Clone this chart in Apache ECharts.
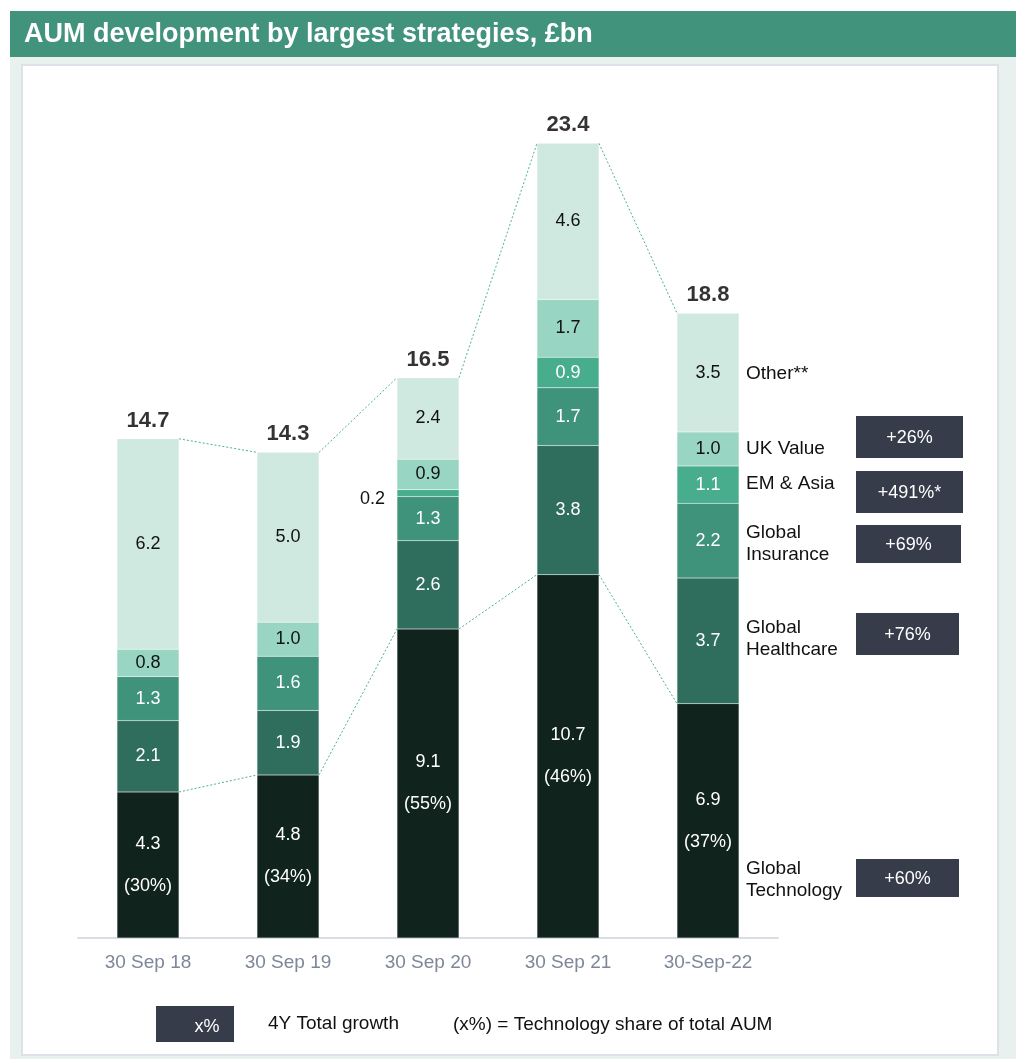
<!DOCTYPE html>
<html>
<head>
<meta charset="utf-8">
<script src="https://cdn.jsdelivr.net/npm/echarts@6/dist/echarts.min.js"></script>
<style>
  html, body { margin: 0; padding: 0; background: #fff; }
  #chart { width: 1016px; height: 1059px; }
</style>
</head>
<body>
<div id="chart"></div>
<script>
// data
var categories = ['30 Sep 18', '30 Sep 19', '30 Sep 20', '30 Sep 21', '30-Sep-22'];
var seriesNames = ['Global Technology', 'Global Healthcare', 'Global Insurance', 'EM & Asia', 'UK Value', 'Other**'];
var technology = [4.3, 4.8, 9.1, 10.7, 6.9];
var healthcare = [2.1, 1.9, 2.6, 3.8, 3.7];
var insurance = [1.3, 1.6, 1.3, 1.7, 2.2];
var emAsia = [0, 0, 0.2, 0.9, 1.1];
var ukValue = [0.8, 1.0, 0.9, 1.7, 1.0];
var other = [6.2, 5.0, 2.4, 4.6, 3.5];
var totalLabels = ['14.7', '14.3', '16.5', '23.4', '18.8'];
var techShare = ['30%', '34%', '55%', '46%', '37%'];
var growth = ['+60%', '+76%', '+69%', '+491%*', '+26%'];

var colors = ['#10231d', '#2f6e5c', '#40937b', '#48ad8c', '#98d5c2', '#cfe9e1'];
var labelColors = ['#fff', '#fff', '#fff', '#fff', '#111', '#111'];
var values = [technology, healthcare, insurance, emAsia, ukValue, other];
var font = "'Liberation Sans', Arial, sans-serif";

// stacked tops
var techTop = technology.slice();
var stackTop = categories.map(function (c, i) {
  var s = 0;
  values.forEach(function (v) { s += v[i]; });
  return +s.toFixed(2);
});

var BAR_W = 62;

var series = values.map(function (vals, k) {
  return {
    name: seriesNames[k],
    type: 'bar',
    stack: 'aum',
    barWidth: BAR_W,
    itemStyle: { color: colors[k], borderColor: 'rgba(255,255,255,0.25)', borderWidth: 0.5 },
    data: vals.map(function (v, i) {
      var item = { value: v };
      if (v === 0) {
        item.label = { show: false };
      } else if (k === 3 && v < 0.5) {
        item.label = { show: true, position: 'left', distance: 12, color: '#111', offset: [0, 6] };
      }
      return item;
    }),
    label: {
      show: true,
      position: 'inside',
      color: labelColors[k],
      fontFamily: font,
      fontSize: 18,
      lineHeight: k === 0 ? 42 : 20,
      formatter: function (p) {
        var v = p.value.toFixed(1);
        return k === 0 ? v + '\n(' + techShare[p.dataIndex] + ')' : v;
      }
    }
  };
});

// dotted connectors between bar tops
function connectorData(tops) {
  var d = [];
  for (var i = 0; i < tops.length - 1; i++) d.push([i, tops[i], tops[i + 1]]);
  return d;
}
function connectorRender(params, api) {
  var a = api.coord([api.value(0), api.value(1)]);
  var b = api.coord([api.value(0) + 1, api.value(2)]);
  return {
    type: 'line',
    shape: { x1: a[0] + BAR_W / 2, y1: a[1], x2: b[0] - BAR_W / 2, y2: b[1] },
    style: { stroke: '#4fb08f', lineWidth: 1, lineDash: [2, 2] }
  };
}
series.push({
  type: 'custom', renderItem: connectorRender, data: connectorData(stackTop), z: 5, silent: true
});
series.push({
  type: 'custom', renderItem: connectorRender, data: connectorData(techTop), z: 5, silent: true
});
// totals above bars
series.push({
  type: 'scatter',
  symbolSize: 0,
  data: stackTop.map(function (v, i) { return [i, v]; }),
  label: {
    show: true, position: 'top', distance: 7,
    color: '#000', fontFamily: font, fontSize: 22, fontWeight: 'bold',
    formatter: function (p) { return totalLabels[p.dataIndex]; }
  },
  silent: true
});

// right-hand annotations (series names and 4Y growth boxes)
var nameY = [880, 639, 544, 484, 449, 374];
var boxY = [859, 613, 525, 471, 416];
var boxH = [38, 42, 38, 42, 42];
var boxW = [103, 103, 105, 107, 107];
var graphics = [
  { type: 'rect', shape: { x: 10, y: 11, width: 1006, height: 1048 }, style: { fill: '#e8f1ee' }, z: -10 },
  { type: 'rect', shape: { x: 22, y: 65, width: 976, height: 990 }, style: { fill: '#fff', stroke: '#dde2e8', lineWidth: 2 }, z: -9 },
  { type: 'rect', shape: { x: 10, y: 11, width: 1006, height: 46 }, style: { fill: '#41937b' }, z: -8 },
  { type: 'text', x: 24, y: 35, style: { text: 'AUM development by largest strategies, £bn', fill: '#fff', font: 'bold 27px ' + font, textVerticalAlign: 'middle' } }
];
seriesNames.forEach(function (n, k) {
  var txt = n.indexOf('Global ') === 0 ? n.replace(' ', '\n') : n;
  graphics.push({
    type: 'text', x: 746, y: nameY[k],
    style: { text: txt, fill: '#111', font: '19px ' + font, lineHeight: 22, textVerticalAlign: 'middle' }
  });
});
growth.forEach(function (g, k) {
  graphics.push({ type: 'rect', shape: { x: 856, y: boxY[k], width: boxW[k], height: boxH[k] }, style: { fill: '#363c4a' } });
  graphics.push({
    type: 'text', x: 856 + boxW[k] / 2, y: boxY[k] + boxH[k] / 2 + 1,
    style: { text: g, fill: '#fff', font: '18px ' + font, textAlign: 'center', textVerticalAlign: 'middle' }
  });
});
// key at the bottom
graphics.push({ type: 'rect', shape: { x: 156, y: 1006, width: 78, height: 36 }, style: { fill: '#363c4a' } });
graphics.push({ type: 'text', x: 207, y: 1027, style: { text: 'x%', fill: '#fff', font: '18px ' + font, textAlign: 'center', textVerticalAlign: 'middle' } });
graphics.push({ type: 'text', x: 268, y: 1024, style: { text: '4Y Total growth', fill: '#111', font: '19px ' + font, textVerticalAlign: 'middle' } });
graphics.push({ type: 'text', x: 453, y: 1025, style: { text: '(x%) = Technology share of total AUM', fill: '#111', font: '19px ' + font, textVerticalAlign: 'middle' } });

var myChart = echarts.init(document.getElementById('chart'));
var option = {
  animation: false,
  textStyle: { fontFamily: font },
  grid: { left: 78, right: 238, top: 89, bottom: 121 },
  xAxis: {
    type: 'category',
    data: categories,
    axisTick: { show: false },
    axisLine: { lineStyle: { color: '#d9dde6', width: 2 } },
    axisLabel: { color: '#7d8799', fontSize: 19, margin: 15, fontFamily: font }
  },
  yAxis: { type: 'value', min: 0, max: 25, show: false, splitLine: { show: false } },
  graphic: graphics,
  series: series
};
myChart.setOption(option);
</script>
</body>
</html>
